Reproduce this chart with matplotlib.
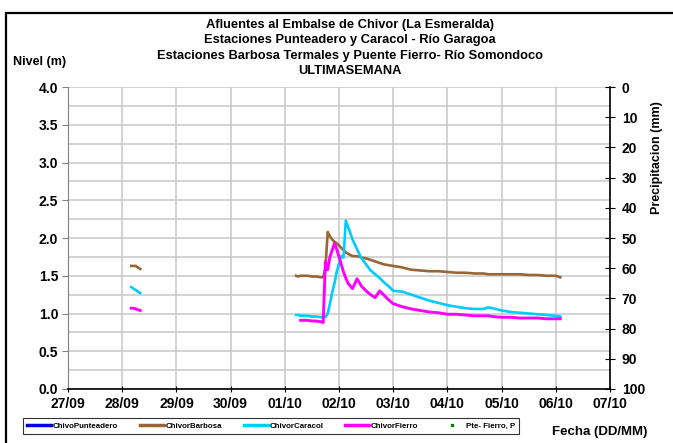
import numpy as np
import matplotlib.pyplot as plt
import matplotlib.patches as patches
from matplotlib.ticker import MultipleLocator

plt.rcParams['font.family'] = ['Liberation Sans', 'DejaVu Sans']
plt.rcParams['font.weight'] = 'bold'

# Day ticks (hours counted from 27/09 00:00)
date_labels = ['27/09', '28/09', '29/09', '30/09', '01/10', '02/10',
               '03/10', '04/10', '05/10', '06/10', '07/10']

# Short record on 28/09
hours_a = [28, 29, 30, 31, 32]
barbosa_a = [1.63, 1.63, 1.63, 1.61, 1.59]
caracol_a = [1.35, 1.33, 1.31, 1.29, 1.27]
fierro_a = [1.07, 1.07, 1.06, 1.05, 1.04]

# Record from 01/10 to 06/10
hours_b = [101, 102, 103, 104, 106, 108, 110, 112, 113, 114, 115, 116, 117,
           118, 119, 120, 121, 122, 123, 124, 126, 128, 130, 132, 134, 136,
           138, 140, 142, 144, 148, 152, 156, 160, 164, 168, 172, 176, 180,
           184, 186, 188, 192, 196, 200, 204, 208, 212, 216, 218]
barbosa_b = [1.50, 1.49, 1.50, 1.50, 1.50, 1.49, 1.49, 1.48, 1.48, 1.60, 2.08,
             2.02, 1.98, 1.95, 1.93, 1.90, 1.87, 1.84, 1.81, 1.79, 1.76, 1.76,
             1.74, 1.73, 1.71, 1.69, 1.67, 1.65, 1.64, 1.63, 1.61, 1.58, 1.57,
             1.56, 1.56, 1.55, 1.54, 1.54, 1.53, 1.53, 1.52, 1.52, 1.52, 1.52,
             1.52, 1.51, 1.51, 1.50, 1.50, 1.48]
caracol_b = [0.98, 0.98, 0.97, 0.97, 0.97, 0.96, 0.96, 0.95, 0.96, 0.95, 1.00,
             1.13, 1.28, 1.40, 1.55, 1.66, 1.76, 1.74, 2.23, 2.15, 1.98, 1.85,
             1.73, 1.65, 1.57, 1.52, 1.47, 1.41, 1.36, 1.30, 1.29, 1.25, 1.21,
             1.17, 1.14, 1.11, 1.09, 1.07, 1.06, 1.06, 1.08, 1.07, 1.04, 1.02,
             1.01, 1.00, 0.99, 0.98, 0.97, 0.96]
fierro_b = [np.nan, np.nan, 0.91, 0.91, 0.91, 0.90, 0.90, 0.89, 0.88, 1.69, 1.58,
            1.75, 1.84, 1.93, 1.85, 1.75, 1.65, 1.55, 1.47, 1.40, 1.33, 1.46,
            1.36, 1.30, 1.25, 1.21, 1.30, 1.24, 1.18, 1.13, 1.09, 1.06, 1.04,
            1.02, 1.01, 0.99, 0.99, 0.98, 0.97, 0.97, 0.97, 0.96, 0.95, 0.95,
            0.94, 0.94, 0.94, 0.93, 0.93, 0.93]

# No Punteadero levels and no Puente Fierro rain in this week
punteadero_hours, punteadero = [], []
rain_hours, rain = [], []

hours = hours_a + [np.nan] + hours_b
barbosa = barbosa_a + [np.nan] + barbosa_b
caracol = caracol_a + [np.nan] + caracol_b
fierro = fierro_a + [np.nan] + fierro_b

fig = plt.figure(figsize=(6.73, 4.43), dpi=100)
ax = fig.add_axes([68 / 673, 1 - 389 / 443, 542 / 673, 302 / 443])

lw = 1.9
l1, = ax.plot(punteadero_hours, punteadero, color='#0000dd', lw=lw, label='ChivoPunteadero')
l2, = ax.plot(hours, barbosa, color='#996633', lw=lw, label='ChivorBarbosa')
l3, = ax.plot(hours, caracol, color='#00ccff', lw=lw, label='ChivorCaracol')
l4, = ax.plot(hours, fierro, color='#ff00ff', lw=lw + 0.2, label='ChivorFierro')

ax.set_xlim(0, 240)
ax.set_xticks(np.arange(0, 241, 24))
ax.set_xticklabels(date_labels)
ax.set_ylim(0, 4)
ax.yaxis.set_major_locator(MultipleLocator(0.5))
ax.yaxis.set_minor_locator(MultipleLocator(0.25))
ax.yaxis.set_major_formatter(plt.FormatStrFormatter('%.1f'))
ax.grid(True, which='both', color='#c8c8c8', lw=1.1)
ax.set_axisbelow(True)
ax.tick_params(axis='y', which='minor', length=0)
ax.tick_params(axis='y', which='major', direction='out', length=4, labelsize=10, color='#808080', pad=3)
ax.tick_params(axis='x', direction='inout', length=4, labelsize=10, pad=4)
ax.spines['top'].set_visible(False)
ax.spines['left'].set_color('#808080')
ax.spines['right'].set_visible(False)
ax.spines['bottom'].set_linewidth(1.2)

# Rain on the right axis, inverted
ax2 = ax.twinx()
l5, = ax2.plot(rain_hours, rain, ls='', marker='s', ms=2, color='#008000', label='Pte- Fierro, P')
ax2.set_ylim(100, 0)
ax2.yaxis.set_major_locator(MultipleLocator(10))
ax2.tick_params(axis='y', direction='inout', length=7, labelsize=10, pad=5)
for s in ['top', 'left', 'bottom']:
    ax2.spines[s].set_visible(False)
ax2.spines['right'].set_linewidth(1.2)

# Titles and axis labels
titles = ['Afluentes al Embalse de Chivor (La Esmeralda)',
          'Estaciones Punteadero y Caracol - Río Garagoa',
          'Estaciones Barbosa Termales y Puente Fierro- Río Somondoco',
          'ULTIMASEMANA']
for i, t in enumerate(titles):
    fig.text(350 / 673, 1 - (25 + i * 15.3) / 443, t, ha='center', va='center', fontsize=9.3, fontweight='bold')
fig.text(40 / 673, 1 - 62 / 443, 'Nivel (m)', ha='center', va='center', fontsize=9, fontweight='bold')
fig.text(657 / 673, 1 - 158 / 443, 'Precipitacion (mm)', ha='center', va='center', rotation=90, fontsize=9, fontweight='bold')
fig.text(600 / 673, 1 - 432 / 443, 'Fecha (DD/MM)', ha='center', va='center', fontsize=9.5, fontweight='bold')

leg = fig.legend(handles=[l1, l2, l3, l4, l5], loc='center', bbox_to_anchor=(271 / 673, 1 - 426 / 443),
                 ncol=5, fontsize=5.7, frameon=True, fancybox=False, edgecolor='black',
                 handlelength=3, handletextpad=0.2, columnspacing=2.8, borderpad=0.5)
leg.get_frame().set_linewidth(0.8)
for h in leg.legend_handles[:4]:
    h.set_linewidth(2.5)

# Outer chart border
fig.add_artist(patches.Rectangle((6 / 673, -0.05), 1.0, 1 - 13 / 443 + 0.05, transform=fig.transFigure,
                                 fill=False, edgecolor='black', lw=1.6, clip_on=False))

fig.savefig('out.png', dpi=100)
